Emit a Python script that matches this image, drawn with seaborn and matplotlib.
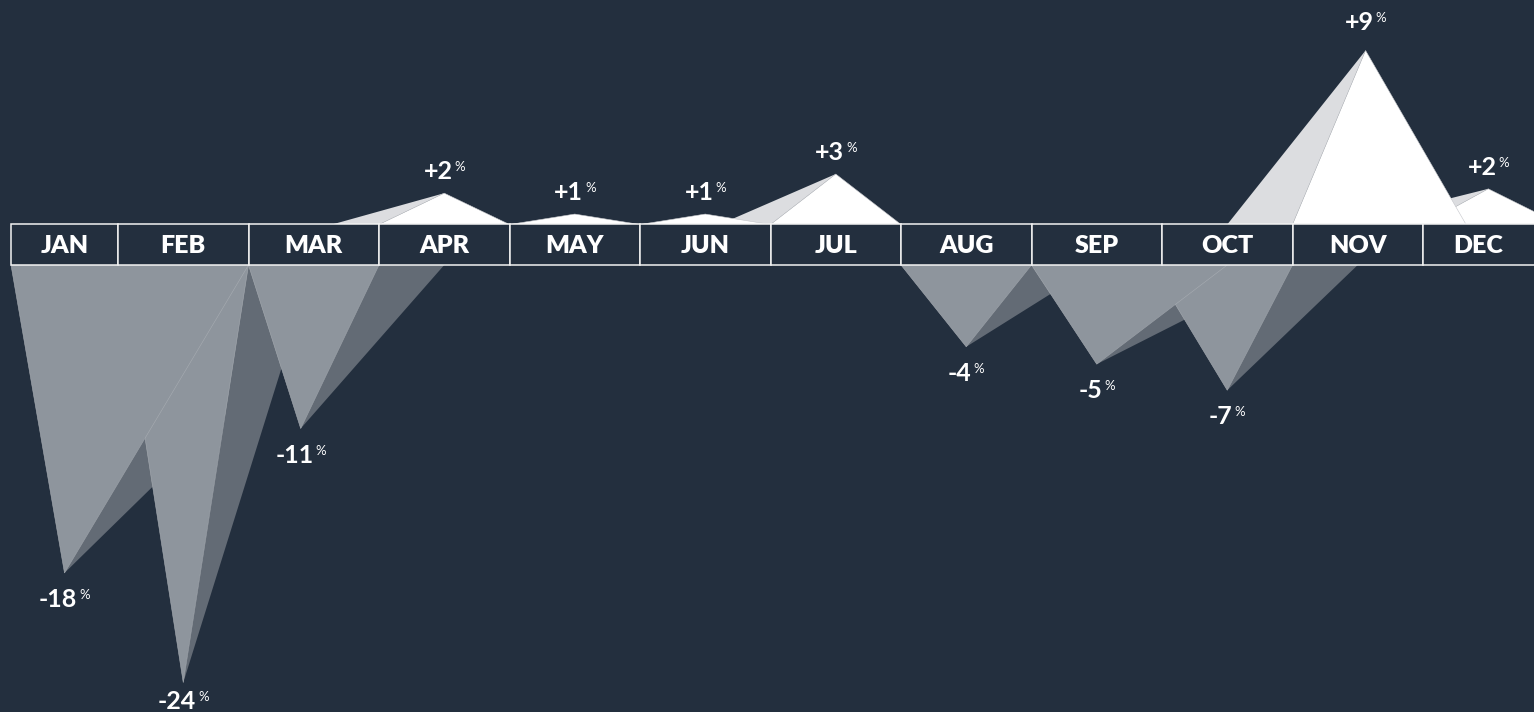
import matplotlib
matplotlib.use("Agg")
import matplotlib.pyplot as plt
import seaborn as sns
from matplotlib.patches import Polygon, Rectangle

months = ["JAN", "FEB", "MAR", "APR", "MAY", "JUN",
          "JUL", "AUG", "SEP", "OCT", "NOV", "DEC"]
# change printed on each peak (%)
change = [-18, -24, -11, 2, 1, 1, 3, -4, -5, -7, 9, 2]
# height of each peak as drawn in the picture (%)
height = [-17.7, -24.0, -9.4, 1.8, 0.6, 0.6, 2.9, -4.7, -5.7, -7.2, 10.0, 2.05]

# facet shape, in month widths from the month centre
peak_shift = [0.09, 0, -0.1, 0, 0, 0, 0, 0, 0, 0, 0.06, 0]
near = [-0.32, -0.5, -0.5, -0.5, -0.5, -0.5, -0.5, -0.5, -0.5, -0.58, -0.5, -0.5]
far = [1.5, 0.5, 0.5, 0.5, 0.5, 0.5, 0.5, 0.5, 1.0, 0.5, 0.83, 0.55]
shade = [2.5, 1.0, 1.0, -0.86, -0.5, -0.5, -0.89, 1.0, 1.5, 1.0, -1.0, -1.09]

BG = "#232f3e"
NEG_FACE, NEG_SHADE = "#8e959d", "#636b75"
POS_FACE, POS_SHADE = "#ffffff", "#dcdde0"

sns.set_theme(style="dark", rc={"axes.facecolor": BG, "figure.facecolor": BG})
plt.rcParams["font.family"] = ["Lato", "DejaVu Sans"]

fig = plt.figure(figsize=(15.34, 7.12), dpi=100)
ax = fig.add_axes([0, 0, 1, 1])
ax.set_xlim(12.5 / 130.5, 1546.5 / 130.5)
ax.set_ylim(-487.5 / 17.4, 224.5 / 17.4)
gap = 40.5 / 17.4  # height of the month band
x_left = (11 + 12.5) / 130.5

n = len(months)
for i in range(n):
    h = height[i]
    c = i + 0.5
    px = c + peak_shift[i]
    if h < 0:
        base = -gap
        face = [(c + near[i], base), (px, base + h), (c + far[i], base)]
        sh = [(px, base + h), (c + far[i], base), (c + shade[i], base)]
        fc, sc, ec = NEG_FACE, NEG_SHADE, "#a7acb2"
    else:
        base = 0
        face = [(c + near[i], base), (px, base + h), (c + far[i], base)]
        sh = [(c + shade[i], base), (px, base + h), (c + near[i], base)]
        fc, sc, ec = POS_FACE, POS_SHADE, "#c4c6ca"
    ax.add_patch(Polygon(sh, closed=True, fc=sc, ec="none", zorder=1))
    ax.add_patch(Polygon(face, closed=True, fc=fc, ec=ec, lw=0.4,
                         zorder=2 + (n - i) * 0.01))

# month band
for i, m in enumerate(months):
    left = max(i, x_left)
    ax.add_patch(Rectangle((left, -gap), i + 1 - left, gap, fc=BG,
                           ec="#f2f2f2", lw=1.1, zorder=5))
    right = min(i + 1, ax.get_xlim()[1])
    ax.text((left + right) / 2, -gap / 2 - 0.05, m, color="white",
            fontsize=18, fontweight="heavy", ha="center", va="center",
            zorder=6)

# value labels: number plus small raised percent sign
nums, pcts = [], []
for i in range(n):
    h = height[i]
    px = i + 0.5 + peak_shift[i]
    y = h - gap if h < 0 else h
    if h < 0:
        ypix = ax.transData.transform((px, y))[1]
        dy = -min(34, ypix - 3)
    else:
        dy = 14 if change[i] < 9 else 20
    dy = dy * 72 / 100
    t = ax.annotate(f"{change[i]:+d}", (px, y), xytext=(0, dy),
                    textcoords="offset points", ha="center", va="baseline",
                    color="white", fontsize=18, fontweight="bold", zorder=7)
    p = ax.annotate("%", (px, y), xytext=(0, dy), textcoords="offset points",
                    ha="left", va="baseline", color="white", fontsize=9.5,
                    zorder=7)
    nums.append(t)
    pcts.append(p)

fig.canvas.draw()
r = fig.canvas.get_renderer()
for t, p in zip(nums, pcts):
    wn = t.get_window_extent(r).width
    wp = p.get_window_extent(r).width
    g = 2
    total = wn + g + wp
    dx_num = (wn - total) / 2
    dx_pct = -total / 2 + wn + g
    _, dy = t.xyann
    t.xyann = (dx_num * 72 / 100, dy)
    p.xyann = (dx_pct * 72 / 100, dy + 8 * 72 / 100)

ax.set_xticks([])
ax.set_yticks([])
sns.despine(ax=ax, left=True, bottom=True)
fig.savefig("out.png", dpi=100, facecolor=BG)
